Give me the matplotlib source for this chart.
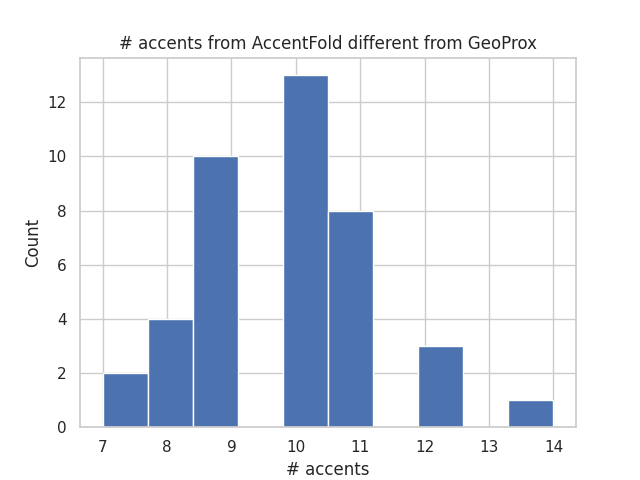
import numpy as np
import matplotlib
matplotlib.use('Agg')
import matplotlib.pyplot as plt
import seaborn as sns

sns.set_theme(style='whitegrid')

# number of accents per item
accent_values = [7, 8, 9, 10, 11, 12, 13, 14]
accent_counts = [2, 4, 10, 13, 8, 3, 0, 1]

data = np.repeat(accent_values, accent_counts)

fig, ax = plt.subplots(figsize=(6.4, 4.8), dpi=100)
ax.hist(data, bins=10, color='#4c72b0', edgecolor='white')
ax.set_title('# accents from AccentFold different from GeoProx')
ax.set_xlabel('# accents')
ax.set_ylabel('Count')

fig.savefig('out.png', dpi=100)
